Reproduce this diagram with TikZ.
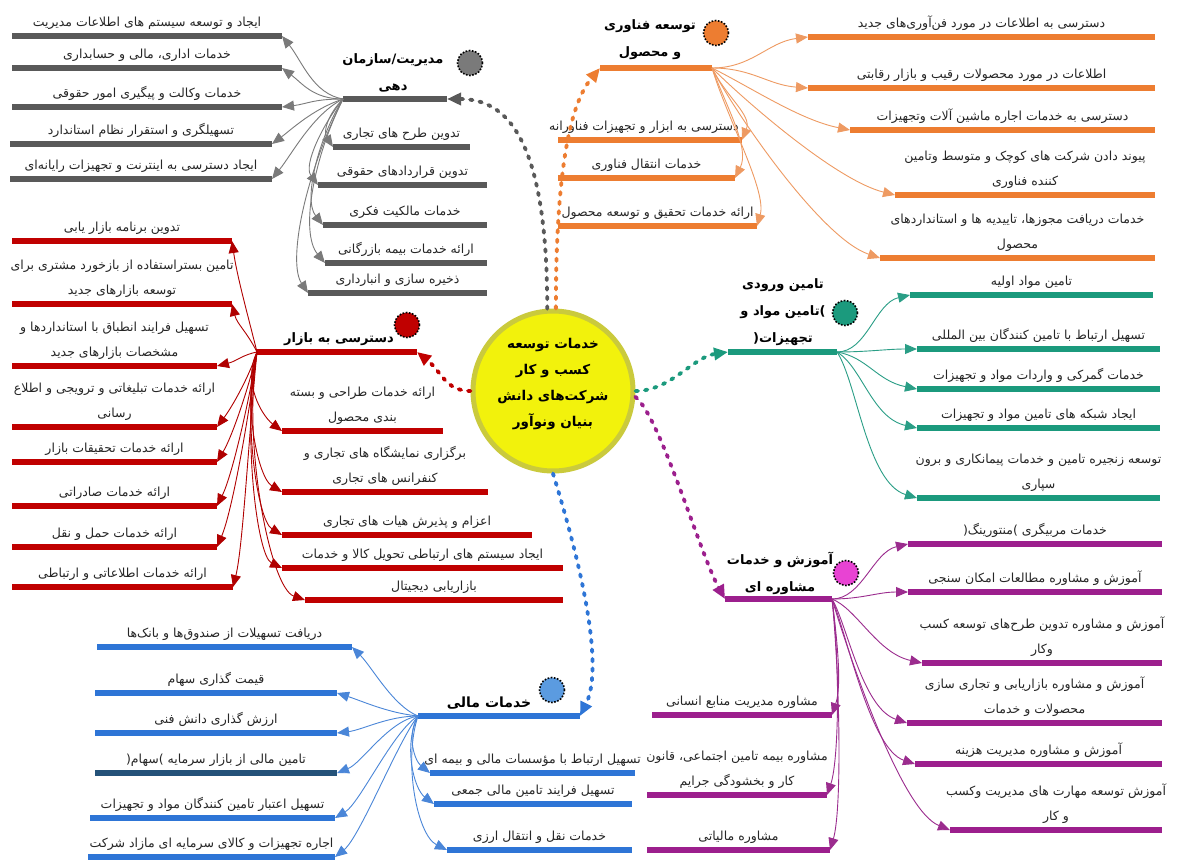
\documentclass[tikz,border=0pt]{standalone}
\usepackage{fontspec}
\usetikzlibrary{arrows.meta}
\newfontfamily\fafont[Script=Arabic]{DejaVu Sans}
\TeXXeTstate=1
\newcommand\fa[1]{\beginR #1\endR}
\newcommand\po{\hbox{(}}
\newcommand\pc{\hbox{)}}
\definecolor{cG}{HTML}{595959}\definecolor{lG}{HTML}{7A7A7A}
\definecolor{cO}{HTML}{ED7D31}\definecolor{lO}{HTML}{EE9A62}
\definecolor{cT}{HTML}{1B9A7D}\definecolor{lT}{HTML}{2A9E86}
\definecolor{cP}{HTML}{9C1F8D}\definecolor{lP}{HTML}{9B2C8E}
\definecolor{cB}{HTML}{2E75D6}\definecolor{lB}{HTML}{4A86D8}
\definecolor{cR}{HTML}{C00000}\definecolor{lR}{HTML}{B00000}
\definecolor{cN}{HTML}{245279}
\definecolor{cPink}{HTML}{E843D3}\definecolor{cBl}{HTML}{5B9BE0}
\definecolor{cY}{HTML}{F2F20C}\definecolor{cYe}{HTML}{CACA3C}
\newcommand\leaf[7][0]{%
  \pgfmathsetmacro\lcx{(#3+#4)/2}%
  \pgfmathsetmacro\lw{#4-#3}%
  \node[bar=#6, minimum width=\lw pt] (#2) at (\lcx,#5) {};
  \node[lbl] (#2t) at (\lcx+#1,#5-5.5) {#7};
}
\begin{document}
\begin{tikzpicture}[x=1pt,y=-1pt,
  bar/.style={inner sep=0pt, outer sep=0pt, minimum height=5.5pt, fill=#1, draw=none},
  lbl/.style={font=\fafont\fontsize{12.5}{25}\selectfont, align=center, inner sep=0.5pt, anchor=south, text=black!85},
  ttl/.style={font=\fafont\bfseries\fontsize{13}{27}\selectfont, align=center, inner sep=0.5pt, anchor=south},
  lk/.style={draw=#1, line width=0.9pt, -{Triangle[length=12pt,width=10pt]}},
  dsh/.style={draw=#1, line width=3.8pt, dash pattern=on 2.5pt off 7pt, line cap=round, -{Triangle[length=14pt,width=12pt]}},
  dotc/.style={circle, minimum size=25pt, inner sep=0pt, fill=#1, draw=black, line width=1.6pt, dash pattern=on 1.6pt off 1.6pt},
  hdr/.style={bar=#1}]
\useasboundingbox[fill=white] (0,0) rectangle (1180,862);

% ---------- centre ----------
\node[circle, minimum size=160pt, inner sep=0pt, fill=cY, draw=cYe, line width=5pt] (hub) at (553,391) {};
\node[font=\fafont\bfseries\fontsize{13.5}{26}\selectfont, align=center, inner sep=0pt] (hubt) at (553,384)
  {\fa{خدمات توسعه}\\\fa{کسب و کار}\\\fa{شرکت‌های دانش}\\\fa{بنیان ونوآور}};

% ---------- headers ----------
\node[hdr=cG, minimum width=104pt] (g) at (395,99) {};
\node[ttl] (gT) at (393,93) {\fa{مدیریت/سازمان}\\\fa{دهی}};
\node[dotc=lG] (gC) at (470,63) {};

\node[hdr=cO, minimum width=112pt] (o) at (656,68) {};
\node[ttl] (oT) at (650,60) {\fa{توسعه فناوری}\\\fa{و محصول}};
\node[dotc=cO] (oC) at (716,33) {};

\node[hdr=cT, minimum width=109pt] (t) at (782.5,352) {};
\node[ttl] (tT) at (783,346) {\fa{تامین ورودی}\\\fa{\pc تامین مواد و}\\\fa{تجهیزات\po}};
\node[dotc=cT] (tC) at (845,313) {};

\node[hdr=cP, minimum width=107pt] (p) at (778.5,599) {};
\node[ttl] (pT) at (780,595) {\fa{آموزش و خدمات}\\\fa{مشاوره ای}};
\node[dotc=cPink] (pC) at (846,573) {};

\node[hdr=cB, minimum width=162pt] (b) at (499,716) {};
\node[ttl, font=\fafont\bfseries\fontsize{14}{27}\selectfont] (bT) at (489,710) {\fa{خدمات مالی}};
\node[dotc=cBl] (bC) at (552,690) {};

\node[hdr=cR, minimum width=160pt] (r) at (337,352) {};
\node[ttl] (rT) at (339,346) {\fa{دسترسی به بازار}};
\node[dotc=cR] (rC) at (407,325) {};

% ---------- gray leaves ----------
\leaf{g1}{12}{282}{36}{cG}{\fa{ایجاد و توسعه سیستم های اطلاعات مدیریت}}
\leaf{g2}{12}{282}{68}{cG}{\fa{خدمات اداری، مالی و حسابداری}}
\leaf{g3}{12}{282}{107}{cG}{\fa{خدمات وکالت و پیگیری امور حقوقی}}
\leaf{g4}{10}{272}{144}{cG}{\fa{تسهیلگری و استقرار نظام استاندارد}}
\leaf{g5}{10}{272}{179}{cG}{\fa{ایجاد دسترسی به اینترنت و تجهیزات رایانه‌ای}}
\leaf{g6}{333}{470}{147}{cG}{\fa{تدوین طرح های تجاری}}
\leaf{g7}{318}{487}{185}{cG}{\fa{تدوین قراردادهای حقوقی}}
\leaf{g8}{323}{487}{225}{cG}{\fa{خدمات مالکیت فکری}}
\leaf{g9}{325}{487}{263}{cG}{\fa{ارائه خدمات بیمه بازرگانی}}
\leaf{g10}{308}{487}{293}{cG}{\fa{ذخیره سازی و انبارداری}}

% ---------- orange leaves ----------
\leaf{o1}{808}{1155}{37}{cO}{\fa{دسترسی به اطلاعات در مورد فن‌آوری‌های جدید}}
\leaf{o2}{808}{1155}{88}{cO}{\fa{اطلاعات در مورد محصولات رقیب و بازار رقابتی}}
\leaf{o3}{850}{1155}{130}{cO}{\fa{دسترسی به خدمات اجاره ماشین آلات وتجهیزات}}
\leaf{o4}{895}{1155}{195}{cO}{\fa{پیوند دادن شرکت های کوچک و متوسط وتامین}\\\fa{کننده فناوری}}
\leaf{o5}{880}{1155}{258}{cO}{\fa{خدمات دریافت مجوزها، تاییدیه ها و استانداردهای}\\\fa{محصول}}
\leaf[-6]{o6}{558}{742}{140}{cO}{\fa{دسترسی به ابزار و تجهیزات فناورانه}}
\leaf{o7}{558}{735}{178}{cO}{\fa{خدمات انتقال فناوری}}
\leaf{o8}{558}{757}{226}{cO}{\fa{ارائه خدمات تحقیق و توسعه محصول}}

% ---------- teal leaves ----------
\leaf{t1}{910}{1153}{295}{cT}{\fa{تامین مواد اولیه}}
\leaf{t2}{917}{1160}{349}{cT}{\fa{تسهیل ارتباط با تامین کنندگان بین المللی}}
\leaf{t3}{917}{1160}{389}{cT}{\fa{خدمات گمرکی و واردات مواد و تجهیزات}}
\leaf{t4}{917}{1160}{428}{cT}{\fa{ایجاد شبکه های تامین مواد و تجهیزات}}
\leaf{t5}{917}{1160}{498}{cT}{\fa{توسعه زنجیره تامین و خدمات پیمانکاری و برون}\\\fa{سپاری}}

% ---------- purple leaves ----------
\leaf{p1}{908}{1162}{544}{cP}{\fa{خدمات مربیگری \pc منتورینگ\po}}
\leaf{p2}{908}{1162}{592}{cP}{\fa{آموزش و مشاوره مطالعات امکان سنجی}}
\leaf{p3}{922}{1162}{663}{cP}{\fa{آموزش و مشاوره تدوین طرح‌های توسعه کسب}\\\fa{وکار}}
\leaf{p4}{907}{1162}{723}{cP}{\fa{آموزش و مشاوره بازاریابی و تجاری سازی}\\\fa{محصولات و خدمات}}
\leaf{p5}{915}{1162}{764}{cP}{\fa{آموزش و مشاوره مدیریت هزینه}}
\leaf{p6}{950}{1162}{830}{cP}{\fa{آموزش توسعه مهارت های مدیریت وکسب}\\\fa{و کار}}
\leaf{p7}{652}{832}{715}{cP}{\fa{مشاوره مدیریت منابع انسانی}}
\leaf{p8}{647}{827}{795}{cP}{\fa{مشاوره بیمه تامین اجتماعی، قانون}\\\fa{کار و بخشودگی جرایم}}
\leaf{p9}{647}{830}{850}{cP}{\fa{مشاوره مالیاتی}}

% ---------- blue leaves ----------
\leaf{b1}{97}{352}{647}{cB}{\fa{دریافت تسهیلات از صندوق‌ها و بانک‌ها}}
\leaf{b2}{95}{337}{693}{cB}{\fa{قیمت گذاری سهام}}
\leaf{b3}{95}{337}{733}{cB}{\fa{ارزش گذاری دانش فنی}}
\leaf{b4}{95}{337}{773}{cN}{\fa{تامین مالی از بازار سرمایه \pc سهام\po}}
\leaf{b5}{90}{335}{818}{cB}{\fa{تسهیل اعتبار تامین کنندگان مواد و تجهیزات}}
\leaf{b6}{88}{335}{857}{cB}{\fa{اجاره تجهیزات و کالای سرمایه ای مازاد شرکت}}
\leaf{b7}{430}{635}{773}{cB}{\fa{تسهیل ارتباط با مؤسسات مالی و بیمه ای}}
\leaf{b8}{434}{632}{804}{cB}{\fa{تسهیل فرایند تامین مالی جمعی}}
\leaf{b9}{447}{632}{850}{cB}{\fa{خدمات نقل و انتقال ارزی}}

% ---------- red leaves ----------
\leaf{r1}{282}{443}{431}{cR}{\fa{ارائه خدمات طراحی و بسته}\\\fa{بندی محصول}}
\leaf{r2}{282}{488}{492}{cR}{\fa{برگزاری نمایشگاه های تجاری و}\\\fa{کنفرانس های تجاری}}
\leaf{r3}{282}{532}{535}{cR}{\fa{اعزام و پذیرش هیات های تجاری}}
\leaf{r4}{282}{563}{568}{cR}{\fa{ایجاد سیستم های ارتباطی تحویل کالا و خدمات}}
\leaf{r5}{305}{563}{600}{cR}{\fa{بازاریابی دیجیتال}}
\leaf{r6}{12}{232}{241}{cR}{\fa{تدوین برنامه بازار یابی}}
\leaf{r7}{12}{232}{304}{cR}{\fa{تامین بستراستفاده از بازخورد مشتری برای}\\\fa{توسعه بازارهای جدید}}
\leaf{r8}{12}{217}{366}{cR}{\fa{تسهیل فرایند انطباق با استانداردها و}\\\fa{مشخصات بازارهای جدید}}
\leaf{r9}{12}{217}{427}{cR}{\fa{ارائه خدمات تبلیغاتی و ترویجی و اطلاع}\\\fa{رسانی}}
\leaf{r10}{12}{217}{462}{cR}{\fa{ارائه خدمات تحقیقات بازار}}
\leaf{r11}{12}{217}{506}{cR}{\fa{ارائه خدمات صادراتی}}
\leaf{r12}{12}{217}{547}{cR}{\fa{ارائه خدمات حمل و نقل}}
\leaf{r13}{12}{233}{587}{cR}{\fa{ارائه خدمات اطلاعاتی و ارتباطی}}

% ---------- dashed main connectors ----------
\draw[dsh=cG] (hub.94) .. controls +(0,-170) and +(60,0) .. (g.east);
\draw[dsh=cO] (hub.88) .. controls +(0,-160) and +(-25,30) .. (o.west);
\draw[dsh=cT] (hub.east) .. controls +(35,0) and +(-35,5) .. (t.west);
\draw[dsh=cP] (hub.-4) .. controls +(25,20) and +(-25,-45) .. (p.west);
\draw[dsh=cB] (hub.south) .. controls +(40,130) and +(20,-40) .. (b.east);
\draw[dsh=cR] (hub.west) .. controls +(-25,0) and +(25,20) .. (r.east);

% ---------- gray links ----------
\draw[lk=lG] (g.west) .. controls +(-30,-5) and +(20,25) .. (g1.east);
\draw[lk=lG] (g.west) .. controls +(-30,0) and +(20,15) .. (g2.east);
\draw[lk=lG] (g.west) .. controls +(-30,0) and +(25,-3) .. (g3.east);
\draw[lk=lG] (g.west) .. controls +(-30,10) and +(20,-15) .. (g4.east);
\draw[lk=lG] (g.west) .. controls +(-30,15) and +(20,-25) .. (g5.east);
\draw[lk=lG] (g.west) .. controls +(-15,15) and +(-10,-15) .. (g6.west);
\draw[lk=lG] (g.west) .. controls +(-20,25) and +(-15,-20) .. (g7.west);
\draw[lk=lG] (g.west) .. controls +(-25,40) and +(-20,-25) .. (g8.west);
\draw[lk=lG] (g.west) .. controls +(-30,60) and +(-25,-30) .. (g9.west);
\draw[lk=lG] (g.west) .. controls +(-40,80) and +(-20,-30) .. (g10.west);

% ---------- orange links ----------
\draw[lk=lO] (o.east) .. controls +(40,0) and +(-40,5) .. (o1.west);
\draw[lk=lO] (o.east) .. controls +(40,0) and +(-40,-3) .. (o2.west);
\draw[lk=lO] (o.east) .. controls +(40,20) and +(-50,-10) .. (o3.west);
\draw[lk=lO] (o.east) .. controls +(30,30) and +(-60,-15) .. (o4.west);
\draw[lk=lO] (o.east) .. controls +(20,40) and +(-60,-20) .. (o5.west);
\draw[lk=lO] (o.east) .. controls +(15,30) and +(10,-25) .. (o6.east);
\draw[lk=lO] (o.east) .. controls +(15,40) and +(15,-30) .. (o7.east);
\draw[lk=lO] (o.east) .. controls +(15,50) and +(10,-35) .. (o8.east);

% ---------- teal links ----------
\draw[lk=lT] (t.east) .. controls +(30,0) and +(-35,8) .. (t1.west);
\draw[lk=lT] (t.east) .. controls +(30,0) and +(-30,0) .. (t2.west);
\draw[lk=lT] (t.east) .. controls +(30,5) and +(-40,-8) .. (t3.west);
\draw[lk=lT] (t.east) .. controls +(25,15) and +(-45,-10) .. (t4.west);
\draw[lk=lT] (t.east) .. controls +(20,30) and +(-50,-15) .. (t5.west);

% ---------- purple links ----------
\draw[lk=lP] (p.east) .. controls +(30,0) and +(-35,8) .. (p1.west);
\draw[lk=lP] (p.east) .. controls +(30,0) and +(-30,0) .. (p2.west);
\draw[lk=lP] (p.east) .. controls +(25,10) and +(-45,-10) .. (p3.west);
\draw[lk=lP] (p.east) .. controls +(15,25) and +(-45,-15) .. (p4.west);
\draw[lk=lP] (p.east) .. controls +(15,35) and +(-45,-15) .. (p5.west);
\draw[lk=lP] (p.east) .. controls +(15,50) and +(-50,-20) .. (p6.west);
\draw[lk=lP] (p.east) .. controls +(5,40) and +(10,-30) .. (p7.east);
\draw[lk=lP] (p.east) .. controls +(8,60) and +(12,-35) .. (p8.east);
\draw[lk=lP] (p.east) .. controls +(8,80) and +(12,-40) .. (p9.east);

% ---------- blue links ----------
\draw[lk=lB] (b.west) .. controls +(-25,-10) and +(20,20) .. (b1.east);
\draw[lk=lB] (b.west) .. controls +(-30,-3) and +(25,8) .. (b2.east);
\draw[lk=lB] (b.west) .. controls +(-30,0) and +(25,-3) .. (b3.east);
\draw[lk=lB] (b.west) .. controls +(-30,5) and +(25,-10) .. (b4.east);
\draw[lk=lB] (b.west) .. controls +(-25,15) and +(25,-15) .. (b5.east);
\draw[lk=lB] (b.west) .. controls +(-20,25) and +(25,-20) .. (b6.east);
\draw[lk=lB] (b.west) .. controls +(-12,20) and +(-15,-12) .. (b7.west);
\draw[lk=lB] (b.west) .. controls +(-15,30) and +(-20,-15) .. (b8.west);
\draw[lk=lB] (b.west) .. controls +(-15,45) and +(-30,-15) .. (b9.west);

% ---------- red links ----------
\draw[lk=lR] (r.west) .. controls +(-10,-40) and +(5,35) .. (r6.east);
\draw[lk=lR] (r.west) .. controls +(-10,-20) and +(5,20) .. (r7.east);
\draw[lk=lR] (r.west) .. controls +(-15,3) and +(20,-5) .. (r8.east);
\draw[lk=lR] (r.west) .. controls +(-8,25) and +(15,-20) .. (r9.east);
\draw[lk=lR] (r.west) .. controls +(-8,35) and +(15,-25) .. (r10.east);
\draw[lk=lR] (r.west) .. controls +(-8,50) and +(15,-30) .. (r11.east);
\draw[lk=lR] (r.west) .. controls +(-8,65) and +(15,-35) .. (r12.east);
\draw[lk=lR] (r.west) .. controls +(-8,80) and +(10,-40) .. (r13.east);
\draw[lk=lR] (r.west) .. controls +(-15,30) and +(-20,-15) .. (r1.west);
\draw[lk=lR] (r.west) .. controls +(-15,45) and +(-25,-15) .. (r2.west);
\draw[lk=lR] (r.west) .. controls +(-15,60) and +(-25,-15) .. (r3.west);
\draw[lk=lR] (r.west) .. controls +(-15,80) and +(-25,-12) .. (r4.west);
\draw[lk=lR] (r.west) .. controls +(-15,90) and +(-35,-12) .. (r5.west);
\end{tikzpicture}
\end{document}
